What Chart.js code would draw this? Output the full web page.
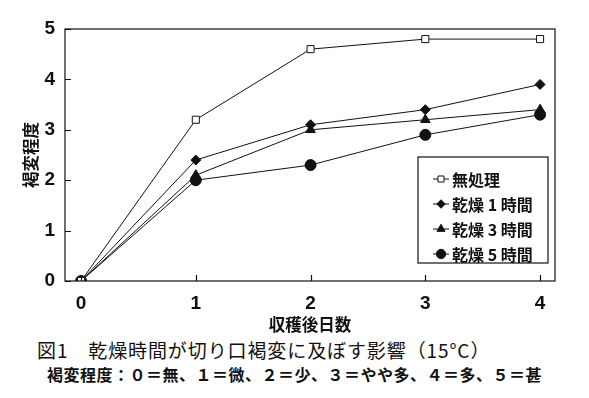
<!DOCTYPE html>
<html>
<head>
<meta charset="utf-8">
<title>乾燥時間と切り口褐変</title>
<script src="https://cdn.jsdelivr.net/npm/chart.js"></script>
<style type="text/css">
    body { margin: 0; background: #fff; }
    #wrap { position: relative; width: 589px; height: 398px; }
    #box { position: absolute; left: 0; top: 0; width: 589px; height: 335px; }
    .cap1 {
        position: absolute; left: 37px; top: 336px;
        font-family: "Noto Sans CJK JP", sans-serif; font-size: 19px; color: #111;
        white-space: nowrap; letter-spacing: 0.9px;
    }
    .cap2 {
        position: absolute; left: 47px; top: 362px;
        font-family: "Noto Sans CJK JP", sans-serif; font-weight: bold; font-size: 16px; color: #111;
        white-space: nowrap; letter-spacing: 0.5px;
    }
</style>
</head>
<body>
<div id="wrap">
    <div id="box"><canvas id="myChart"></canvas></div>
    <div class="cap1">図1　乾燥時間が切り口褐変に及ぼす影響（15°C）</div>
    <div class="cap2">褐変程度：０＝無、１＝微、２＝少、３＝やや多、４＝多、５＝甚</div>
</div>

<script>
    // days after harvest
    const days = [0, 1, 2, 3, 4];
    const seriesNames = ['無処理', '乾燥 1 時間', '乾燥 3 時間', '乾燥 5 時間'];
    // browning score
    const noTreatment = [0, 3.2, 4.6, 4.8, 4.8];
    const dry1h = [0, 2.4, 3.1, 3.4, 3.9];
    const dry3h = [0, 2.1, 3.0, 3.2, 3.4];
    const dry5h = [0, 2.0, 2.3, 2.9, 3.3];
    const yTicks = [0, 1, 2, 3, 4, 5];

    const tickFont = { family: '"Liberation Sans Narrow", "Liberation Sans", Arial, sans-serif', size: 19, weight: 'bold' };
    const cjkBold = { family: '"Noto Sans CJK JP", sans-serif', size: 16.5, weight: 'bold' };

    function pts(vals) {
        return days.map((d, i) => ({ x: d, y: vals[i] }));
    }

    const styles = [
        { pointStyle: 'rect', radius: 5, bg: '#fff' },
        { pointStyle: 'rectRot', radius: 5, bg: '#111' },
        { pointStyle: 'triangle', radius: 5.5, bg: '#111' },
        { pointStyle: 'circle', radius: 5.5, bg: '#111' }
    ];
    const allSeries = [noTreatment, dry1h, dry3h, dry5h];

    // box, inward tick marks and the legend
    const framePlugin = {
        id: 'frame',
        afterDatasetsDraw(chart) {
            const ctx = chart.ctx;
            const a = chart.chartArea;
            const xs = chart.scales.x, ys = chart.scales.y;
            ctx.save();
            ctx.strokeStyle = '#111';
            ctx.lineWidth = 1.2;
            ctx.strokeRect(a.left, a.top, a.right - a.left, a.bottom - a.top);
            ctx.beginPath();
            yTicks.forEach(v => {
                const py = Math.round(ys.getPixelForValue(v)) + 0.5;
                ctx.moveTo(a.left, py); ctx.lineTo(a.left + 6, py);
            });
            days.forEach(v => {
                const px = Math.round(xs.getPixelForValue(v)) + 0.5;
                ctx.moveTo(px, a.bottom); ctx.lineTo(px, a.bottom - 6);
            });
            ctx.stroke();

            // legend
            const lx = 418, ly = 157, lw = 130, lh = 106;
            ctx.fillStyle = '#fff';
            ctx.fillRect(lx, ly, lw, lh);
            ctx.lineWidth = 1.2;
            ctx.strokeRect(lx, ly, lw, lh);
            ctx.font = 'bold 16px "Noto Sans CJK JP", sans-serif';
            ctx.textBaseline = 'middle';
            chart.data.datasets.forEach((ds, i) => {
                const cy = ly + 22 + i * 25;
                ctx.strokeStyle = '#111';
                ctx.lineWidth = 1;
                ctx.beginPath();
                ctx.moveTo(lx + 15, cy); ctx.lineTo(lx + 31, cy);
                ctx.stroke();
                ctx.fillStyle = ds.pointBackgroundColor;
                Chart.helpers.drawPoint(ctx, {
                    pointStyle: ds.pointStyle, radius: ds.pointRadius * 0.85,
                    borderWidth: 1, rotation: 0
                }, lx + 23, cy);
                ctx.fillStyle = '#111';
                ctx.fillText(ds.label, lx + 34, cy + 1);
            });
            ctx.restore();
        }
    };

    const ctx = document.getElementById('myChart').getContext('2d');
    const myChart = new Chart(ctx, {
        type: 'line',
        data: {
            datasets: allSeries.map((vals, i) => ({
                label: seriesNames[i],
                data: pts(vals),
                borderColor: '#111',
                borderWidth: 1,
                pointStyle: styles[i].pointStyle,
                pointRadius: styles[i].radius,
                pointBackgroundColor: styles[i].bg,
                pointBorderColor: '#111',
                pointBorderWidth: 1,
                tension: 0
            }))
        },
        options: {
            responsive: true,
            maintainAspectRatio: false,
            animation: false,
            layout: { padding: { top: 29, right: 34, left: 0, bottom: 0 } },
            plugins: {
                legend: { display: false },
                tooltip: { enabled: false }
            },
            scales: {
                x: {
                    type: 'linear',
                    min: -0.14,
                    max: 4.13,
                    afterBuildTicks: s => { s.ticks = days.map(v => ({ value: v })); },
                    afterFit: s => { s.height = 54; },
                    grid: { display: false, drawTicks: false },
                    border: { display: false },
                    ticks: { color: '#111', font: tickFont, padding: 11, maxRotation: 0 },
                    title: { display: true, text: '収穫後日数', color: '#111', font: cjkBold, padding: { top: 0, bottom: 0 } }
                },
                y: {
                    min: 0,
                    max: 5,
                    afterBuildTicks: s => { s.ticks = yTicks.map(v => ({ value: v })); },
                    afterFit: s => { s.width = 65; },
                    grid: { display: false, drawTicks: false },
                    border: { display: false },
                    ticks: { color: '#111', font: tickFont, padding: 10 },
                    title: { display: true, text: '褐変程度', color: '#111', font: cjkBold, padding: { top: 21, bottom: 0 } }
                }
            }
        },
        plugins: [framePlugin]
    });
</script>
</body>
</html>
